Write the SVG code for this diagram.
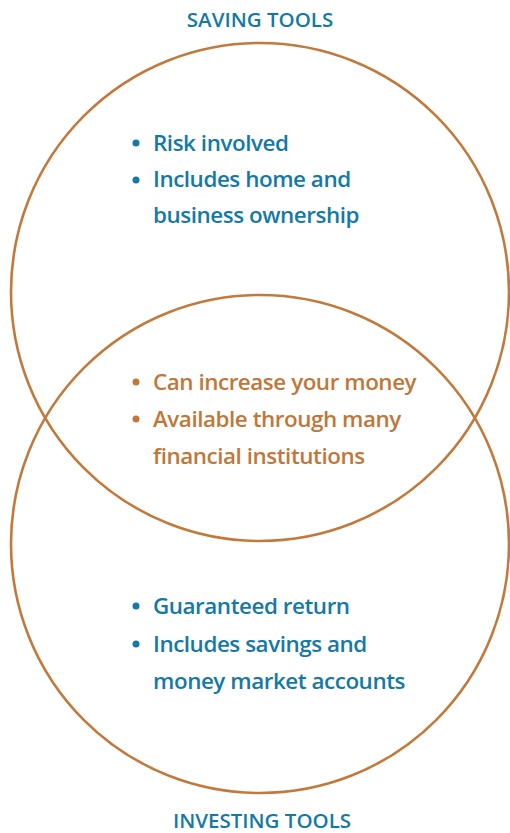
<svg xmlns="http://www.w3.org/2000/svg" width="510" height="833" viewBox="0 0 510 833">
<style>
.ring{fill:none;stroke:#c27a3c;stroke-width:2.6}
.t{font-family:"Open Sans","Noto Sans",sans-serif;font-weight:600;font-size:22.4px;letter-spacing:-0.45px}
.title{font-family:"Open Sans","Noto Sans",sans-serif;font-weight:600;font-size:20.5px;fill:#1479a6;text-anchor:middle}
.blue{fill:#1479a6}
.orange{fill:#c0773a}
</style>
<rect width="510" height="833" fill="#ffffff"/>
<g id="saving-circle"><circle class="ring" cx="260" cy="292" r="249"/></g>
<g id="investing-circle"><circle class="ring" cx="260" cy="544" r="249"/></g>
<g id="saving-title"><text class="title" x="260" y="27">SAVING TOOLS</text></g>
<g id="investing-title"><text class="title" x="262" y="828">INVESTING TOOLS</text></g>
<g id="saving-text" class="blue">
<circle cx="136" cy="143" r="3.5"/><circle cx="136" cy="180" r="3.5"/>
<text class="t" x="153" y="151">Risk involved</text>
<text class="t" x="153" y="187">Includes home and</text>
<text class="t" x="153" y="223">business ownership</text>
</g>
<g id="overlap-text" class="orange">
<circle cx="136" cy="382" r="3.5"/><circle cx="136" cy="419" r="3.5"/>
<text class="t" x="153" y="390">Can increase your money</text>
<text class="t" x="153" y="427">Available through many</text>
<text class="t" x="153" y="464">financial institutions</text>
</g>
<g id="investing-text" class="blue">
<circle cx="136" cy="606" r="3.5"/><circle cx="136" cy="644" r="3.5"/>
<text class="t" x="153" y="614">Guaranteed return</text>
<text class="t" x="153" y="652">Includes savings and</text>
<text class="t" x="153" y="689">money market accounts</text>
</g>
<g id="connectors"></g>
</svg>
